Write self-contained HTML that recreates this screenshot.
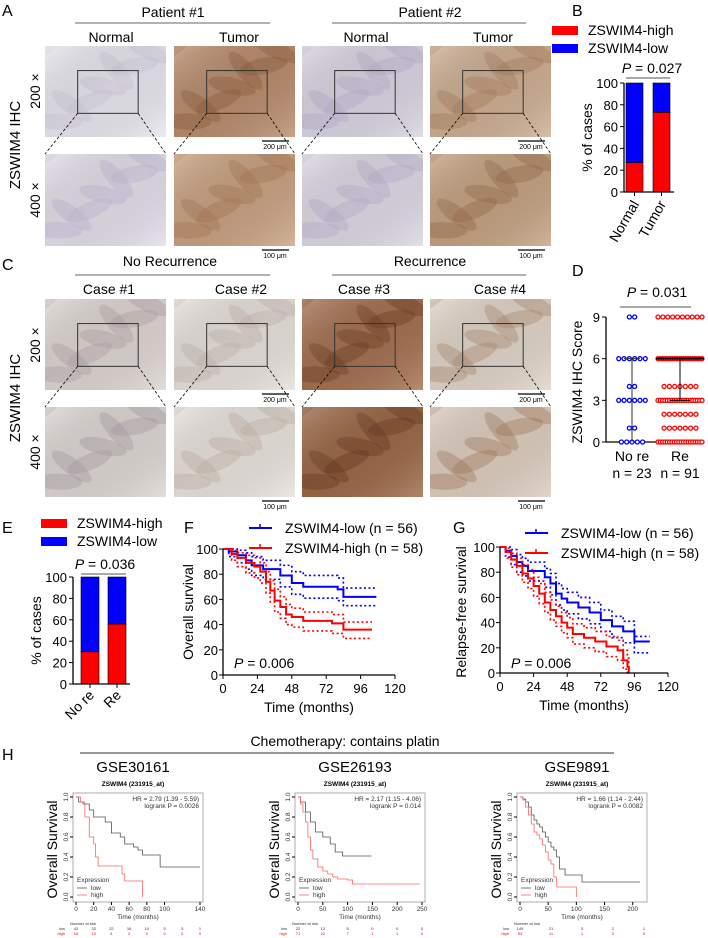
<!DOCTYPE html>
<html><head><meta charset="utf-8">
<style>
html,body{margin:0;padding:0;background:#fff;}
svg{display:block;font-family:"Liberation Sans",Arial,sans-serif;}
</style></head>
<body>
<svg id="fig" width="708" height="938" viewBox="0 0 708 938" xmlns="http://www.w3.org/2000/svg">
<defs id="defs">
<linearGradient id="tex" x1="0" y1="0" x2="1" y2="1">
<stop offset="0" stop-color="#fff" stop-opacity="0.25"/>
<stop offset="0.5" stop-color="#000" stop-opacity="0.06"/>
<stop offset="1" stop-color="#fff" stop-opacity="0.2"/>
</linearGradient>
</defs>
</svg>
<script>
// ---------- DATA ----------
const bCategories=['Normal','Tumor'];
const bHigh=[27,73];
const eCategories=['No re','Re'];
const eHigh=[30,56];
const pctTicks=[0,20,40,60,80,100];

const dScores=[0,1,2,3,4,6,9];
const dNoReCounts=[5,2,0,6,2,6,2];
const dReCounts=[20,7,7,20,7,20,10];
const dTicks=[0,3,6,9];

const fTimes=[0,24,48,72,96,120];
const fLowT=[0,4,10,16,20,28,36,40,48,56,80,84,107];
const fLowS=[100,98,95,91,87,84,84,79,73,70,68,62,62];
const fLowUp=[100,100,99,97,94,91,91,87,82,79,77,69,69];
const fLowLo=[100,94,89,84,79,76,76,70,64,61,59,55,55];
const fHighT=[0,6,10,16,22,26,30,33,36,40,44,48,56,68,76,84,104];
const fHighS=[100,96,93,89,86,82,74,67,59,54,48,46,43,43,41,36,36];
const fHighUp=[100,99,97,95,93,89,82,75,68,62,56,53,50,50,48,42,42];
const fHighLo=[100,91,86,81,77,73,65,58,50,45,40,38,35,35,33,29,29];

const gLowT=[0,4,8,12,16,20,28,32,36,40,44,48,56,64,72,80,88,96,107];
const gLowS=[100,97,93,88,85,81,81,76,71,63,59,56,52,48,42,37,33,25,25];
const gLowUp=[100,100,98,94,91,88,88,83,79,71,67,64,60,56,50,45,41,29,29];
const gLowLo=[100,92,86,80,77,73,73,68,62,54,50,47,43,39,33,28,24,16,16];
const gHighT=[0,4,8,12,16,20,24,28,32,36,40,44,48,52,60,68,76,84,88,91,92];
const gHighS=[100,96,90,85,79,75,69,63,56,50,45,40,36,31,28,25,21,18,10,5,0];
const gHighUp=[100,99,95,91,86,82,76,71,64,58,53,48,44,39,36,33,29,26,18,12,0];
const gHighLo=[100,91,84,78,72,67,61,55,48,42,37,32,28,23,20,17,13,10,3,0,0];

const hTitles=['GSE30161','GSE26193','GSE9891'];
const hHR=['HR = 2.79 (1.39 - 5.59)','HR = 2.17 (1.15 - 4.06)','HR = 1.66 (1.14 - 2.44)'];
const hP=['logrank P = 0.0026','logrank P = 0.014','logrank P = 0.0082'];
const hXTicks=[[0,20,40,60,80,100,140],[0,50,100,150,200,250],[0,50,100,150,200]];
const hXMax=[140,250,220];
const h1LowT=[0,3,8,15,20,30,33,40,50,55,65,70,75,90,95,140];
const h1LowS=[1,0.95,0.93,0.87,0.8,0.8,0.75,0.64,0.6,0.53,0.5,0.47,0.42,0.42,0.3,0.3];
const h1HighT=[0,5,10,15,20,22,25,40,52,55,75,75];
const h1HighS=[1,0.95,0.8,0.6,0.53,0.4,0.31,0.31,0.23,0.16,0.16,0];
const h2LowT=[0,5,15,25,35,50,65,75,90,148];
const h2LowS=[1,0.95,0.85,0.75,0.65,0.6,0.53,0.45,0.41,0.41];
const h2HighT=[0,5,10,15,20,25,30,40,50,60,70,80,100,110,245];
const h2HighS=[1,0.93,0.85,0.75,0.6,0.47,0.38,0.3,0.26,0.23,0.2,0.18,0.17,0.13,0.13];
const h3LowT=[0,5,10,15,20,25,30,35,40,45,50,55,60,65,70,80,110,213];
const h3LowS=[1,0.98,0.95,0.9,0.82,0.77,0.73,0.7,0.65,0.6,0.55,0.5,0.47,0.4,0.28,0.22,0.15,0.15];
const h3HighT=[0,5,10,15,20,25,30,35,40,45,50,55,60,65,100,100];
const h3HighS=[1,0.97,0.9,0.82,0.73,0.65,0.62,0.58,0.52,0.45,0.37,0.33,0.2,0.1,0.1,0];
const hRiskLow=[['42','32','22','16','10','5','3','1'],['22','13','5','0','0','0'],['149','21','3','2','1']];
const hRiskHigh=[['16','10','4','2','0','0','0','0'],['71','22','7','1','1','0'],['93','11','1','0','0']];

// ---------- HELPERS ----------
const NS='http://www.w3.org/2000/svg';
const svg=document.getElementById('fig');
const defs=document.getElementById('defs');
function mk(tag,attrs,name,parent){
  const el=document.createElementNS(NS,tag);
  for(const k in attrs) el.setAttribute(k,attrs[k]);
  
  
  (parent||svg).appendChild(el);
  return el;
}
function txt(x,y,s,size,name,extra){
  const a=Object.assign({x:x,y:y,'font-size':size,fill:'#000'},extra||{});
  const t=mk('text',a,name);
  t.textContent=s;
  return t;
}
function line(x1,y1,x2,y2,name,extra){
  return mk('line',Object.assign({x1:x1,y1:y1,x2:x2,y2:y2,stroke:'#000','stroke-width':1},extra||{}),name);
}
function ptext(x,y,val,name,size){
  const t=mk('text',{x:x,y:y,'font-size':size||14,'text-anchor':'middle',fill:'#000'},name);
  const a=document.createElementNS(NS,'tspan');a.setAttribute('font-style','italic');a.textContent='P';
  t.appendChild(a);
  t.appendChild(document.createTextNode(' = '+val));
  return t;
}

// ---------- MICROGRAPHS ----------
let clipId=0;
function micro(x,y,w,h,base,accent,name,box){
  const cid='clip'+(clipId++);
  const cp=mk('clipPath',{id:cid},name+'-clip',defs);
  mk('rect',{x:x,y:y,width:w,height:h},name+'-clip-rect',cp);
  const g=mk('g',{'clip-path':'url(#'+cid+')'},name);
  mk('rect',{x:x,y:y,width:w,height:h,fill:base},name+'-base',g);
  for(let i=0;i<8;i++){
    const cx=x+w*((i*37%100)/100), cy=y+h*((i*61%100)/100);
    mk('ellipse',{cx:cx,cy:cy,rx:w*0.2,ry:h*0.09,fill:accent,opacity:0.4,transform:`rotate(${-35+i*12} ${cx} ${cy})`},name+'-texture',g);
  }
  mk('rect',{x:x,y:y,width:w,height:h,fill:'url(#tex)'},name+'-shade',g);
  if(box){ mk('rect',{x:box[0],y:box[1],width:box[2],height:box[3],fill:'none',stroke:'#333','stroke-width':1},name+'-zoom-box'); }
}
const cols=[45,174,302,430], cw=121;
function imageGrid(y1,h1,y2,h2,colorsTop,colorsBot,prefix,labels){
  for(let i=0;i<4;i++){
    const bx=cols[i]+cw*0.27, by=y1+h1*0.27, bw=cw*0.5, bh=h1*0.47;
    micro(cols[i],y1,cw,h1,colorsTop[i][0],colorsTop[i][1],prefix+'-'+labels[i]+'-200x',[bx,by,bw,bh]);
    micro(cols[i],y2,cw,h2,colorsBot[i][0],colorsBot[i][1],prefix+'-'+labels[i]+'-400x');
    line(bx,by+bh,cols[i],y2,prefix+'-zoom-line',{'stroke-dasharray':'3,2','stroke-width':0.8});
    line(bx+bw,by+bh,cols[i]+cw,y2,prefix+'-zoom-line',{'stroke-dasharray':'3,2','stroke-width':0.8});
  }
  [1,3].forEach(i=>{
    line(cols[i]+cw-33,y1+h1+4,cols[i]+cw-6,y1+h1+4,prefix+'-scale-bar',{'stroke-width':1.2});
    txt(cols[i]+cw-20,y1+h1+12,'200 μm',7,prefix+'-scale-label',{'text-anchor':'middle'});
    line(cols[i]+cw-33,y2+h2+4,cols[i]+cw-6,y2+h2+4,prefix+'-scale-bar',{'stroke-width':1.2});
    txt(cols[i]+cw-20,y2+h2+12,'100 μm',7,prefix+'-scale-label',{'text-anchor':'middle'});
  });
}

// Panel A
txt(2,16,'A',16,'panel-label-a');
txt(173,17,'Patient #1',14,'patient-1-header',{'text-anchor':'middle'});
line(75,23,270,23,'patient-1-line',{stroke:'#666'});
txt(430,17,'Patient #2',14,'patient-2-header',{'text-anchor':'middle'});
line(332,23,526,23,'patient-2-line',{stroke:'#666'});
[['Normal',111],['Tumor',239],['Normal',366],['Tumor',493]].forEach(a=>txt(a[1],42,a[0],14,'column-label',{'text-anchor':'middle'}));
txt(0,0,'ZSWIM4 IHC',15,'row-axis-label-a',{'text-anchor':'middle',transform:'translate(20,145) rotate(-90)'});
txt(0,0,'200 ×',14,'mag-200-label',{'text-anchor':'middle',transform:'translate(40,91) rotate(-90)'});
txt(0,0,'400 ×',14,'mag-400-label',{'text-anchor':'middle',transform:'translate(40,200) rotate(-90)'});
imageGrid(46,91,154,92,
 [['#e8e6ee','#cfcadd'],['#b98c6d','#8e5e3e'],['#d8d4e2','#b9b2cf'],['#cdae92','#a9805e']],
 [['#e2dee9','#c2bcd6'],['#c9a282','#a97a56'],['#dcd8e4','#bcb5cf'],['#c4a282','#9a6e4c']],
 'a',['normal-1','tumor-1','normal-2','tumor-2']);

// Panel C
txt(2,270,'C',16,'panel-label-c');
txt(170,266,'No Recurrence',14,'no-recurrence-header',{'text-anchor':'middle'});
line(75,275,270,275,'no-recurrence-line',{stroke:'#666'});
txt(430,266,'Recurrence',14,'recurrence-header',{'text-anchor':'middle'});
line(332,275,526,275,'recurrence-line',{stroke:'#666'});
[['Case #1',109],['Case #2',241],['Case #3',364],['Case #4',500]].forEach(a=>txt(a[1],294,a[0],14,'case-label',{'text-anchor':'middle'}));
txt(0,0,'ZSWIM4 IHC',15,'row-axis-label-c',{'text-anchor':'middle',transform:'translate(20,398) rotate(-90)'});
txt(0,0,'200 ×',14,'mag-200-label',{'text-anchor':'middle',transform:'translate(40,345) rotate(-90)'});
txt(0,0,'400 ×',14,'mag-400-label',{'text-anchor':'middle',transform:'translate(40,452) rotate(-90)'});
imageGrid(299,91,407,90,
 [['#ddd5d2','#b6a4a8'],['#e6e0da','#c8b8b2'],['#a47050','#6e3e22'],['#e0d4c8','#b08c70']],
 [['#ddd6d3','#b0a0a8'],['#e8e2dc','#c6b6aa'],['#9c6846','#6a3c24'],['#dccdbf','#a87e5e']],
 'c',['case-1','case-2','case-3','case-4']);

// ---------- STACKED BARS (B, E) ----------
function stacked(opts){
  const {ax,y0,y100,cats,high,barX,barW,prefix,legX,legY,pX,pY,pVal,rot}=opts;
  const ys=v=>y0-(y0-y100)*v/100;
  mk('rect',{x:legX,y:legY,width:26,height:9,fill:'#f00'},prefix+'-legend-high-swatch');
  txt(legX+36,legY+9,'ZSWIM4-high',14,prefix+'-legend-high');
  mk('rect',{x:legX,y:legY+18,width:26,height:9,fill:'#00f'},prefix+'-legend-low-swatch');
  txt(legX+36,legY+27,'ZSWIM4-low',14,prefix+'-legend-low');
  cats.forEach((c,i)=>{
    mk('rect',{x:barX[i],y:ys(100),width:barW,height:ys(high[i])-ys(100),fill:'#00f',stroke:'#000','stroke-width':0.6},prefix+'-bar-low-'+i);
    mk('rect',{x:barX[i],y:ys(high[i]),width:barW,height:ys(0)-ys(high[i]),fill:'#f00',stroke:'#000','stroke-width':0.6},prefix+'-bar-high-'+i);
    const cx=barX[i]+barW/2;
    line(cx,y0,cx,y0+4,prefix+'-x-tick');
    txt(0,0,c,14,prefix+'-x-label',{'text-anchor':'end',transform:`translate(${cx+5},${y0+12}) rotate(${rot})`});
  });
  line(ax,y0,ax,y100,prefix+'-y-axis',{'stroke-width':1.3});
  line(ax,y0,barX[1]+barW+4,y0,prefix+'-x-axis',{'stroke-width':1.3});
  pctTicks.forEach(t=>{
    line(ax-4,ys(t),ax,ys(t),prefix+'-y-tick');
    txt(ax-6,ys(t)+5,String(t),13,prefix+'-y-tick-label',{'text-anchor':'end'});
  });
  txt(0,0,'% of cases',14,prefix+'-y-axis-title',{'text-anchor':'middle',transform:`translate(${ax-32},${(y0+y100)/2}) rotate(-90)`});
  ptext(pX,pY,pVal,prefix+'-p-value',14);
  line(barX[0],pY+5,barX[1]+barW,pY+5,prefix+'-p-line',{stroke:'#555'});
}
txt(572,16,'B',16,'panel-label-b');
stacked({ax:624,y0:192,y100:83,cats:bCategories,high:bHigh,barX:[626,653],barW:17,prefix:'b',legX:552,legY:26,pX:652,pY:73,pVal:'0.027',rot:-60});
txt(2,533,'E',16,'panel-label-e');
stacked({ax:73,y0:684,y100:577,cats:eCategories,high:eHigh,barX:[81,108],barW:18,prefix:'e',legX:41,legY:519,pX:105,pY:569,pVal:'0.036',rot:-45});

// ---------- D: dot plot ----------
txt(572,276,'D',16,'panel-label-d');
(function(){
  const ax=606, y0=442, y9=317, xs=[632,680];
  const ys=v=>y0-(y0-y9)*v/9;
  line(ax,y0,ax,y9,'d-y-axis',{'stroke-width':1.3});
  line(ax,y0,702,y0,'d-x-axis',{'stroke-width':1.3});
  dTicks.forEach(t=>{line(ax-4,ys(t),ax,ys(t),'d-y-tick');txt(ax-6,ys(t)+5,String(t),13,'d-y-tick-label',{'text-anchor':'end'});});
  txt(0,0,'ZSWIM4 IHC Score',14,'d-y-axis-title',{'text-anchor':'middle',transform:`translate(582,382) rotate(-90)`});
  [[dNoReCounts,'#00f'],[dReCounts,'#f00']].forEach((g,gi)=>{
    dScores.forEach((s,si)=>{
      const n=g[0][si]; if(!n) return;
      const sp=n>1?Math.min(5.3,44/(n-1)):0;
      for(let k=0;k<n;k++){
        mk('circle',{cx:xs[gi]+(k-(n-1)/2)*sp,cy:ys(s),r:2,fill:'#fff',stroke:g[1],'stroke-width':1.3},gi?'d-dot-re':'d-dot-no-re');
      }
    });
  });
  line(xs[0],ys(0),xs[0],ys(6),'d-iqr-no-re',{stroke:'#333'});
  line(xs[0]-8,ys(6),xs[0]+8,ys(6),'d-cap-no-re',{stroke:'#333'});
  line(xs[1],ys(3),xs[1],ys(6),'d-iqr-re',{stroke:'#000'});
  line(xs[1]-24,ys(6),xs[1]+24,ys(6),'d-cap-re',{stroke:'#000','stroke-width':2});
  line(xs[1]-10,ys(3),xs[1]+10,ys(3),'d-cap-re-low',{stroke:'#000'});
  txt(xs[0],461,'No re',14,'d-x-label',{'text-anchor':'middle'});
  txt(xs[1],461,'Re',14,'d-x-label',{'text-anchor':'middle'});
  txt(xs[0],478,'n = 23',14,'d-n-label',{'text-anchor':'middle'});
  txt(xs[1],478,'n = 91',14,'d-n-label',{'text-anchor':'middle'});
  ptext(657,297,'0.031','d-p-value',14);
  line(620,307,691,307,'d-p-line',{stroke:'#555'});
})();

// ---------- KM (F, G) ----------
function step(T,S,xs,ys){
  let d='M'+xs(T[0])+','+ys(S[0]);
  for(let i=1;i<T.length;i++) d+=' H'+xs(T[i])+' V'+ys(S[i]);
  return d;
}
function km(o){
  const xs=t=>o.ax+(o.x120-o.ax)*t/120, ys=v=>o.y0-(o.y0-o.y100)*v/100;
  const series=[[o.lowT,o.lowS,o.lowUp,o.lowLo,'#00f','low'],[o.highT,o.highS,o.highUp,o.highLo,'#f00','high']];
  series.forEach(s=>{
    mk('path',{d:step(s[0],s[2],xs,ys),fill:'none',stroke:s[4],'stroke-width':1.6,'stroke-dasharray':'2,2.5'},o.p+'-'+s[5]+'-ci-upper');
    mk('path',{d:step(s[0],s[3],xs,ys),fill:'none',stroke:s[4],'stroke-width':1.6,'stroke-dasharray':'2,2.5'},o.p+'-'+s[5]+'-ci-lower');
    mk('path',{d:step(s[0],s[1],xs,ys),fill:'none',stroke:s[4],'stroke-width':2},o.p+'-'+s[5]+'-curve');
  });
  line(o.ax,o.y0,o.ax,o.y100,o.p+'-y-axis',{'stroke-width':1.3});
  line(o.ax,o.y0,o.x120,o.y0,o.p+'-x-axis',{'stroke-width':1.3});
  pctTicks.forEach(t=>{line(o.ax-4,ys(t),o.ax,ys(t),o.p+'-y-tick');txt(o.ax-5,ys(t)+5,String(t),13,o.p+'-y-tick-label',{'text-anchor':'end'});});
  fTimes.forEach(t=>{line(xs(t),o.y0,xs(t),o.y0+4,o.p+'-x-tick');txt(xs(t),o.y0+18,String(t),13,o.p+'-x-tick-label',{'text-anchor':'middle'});});
  txt((o.ax+o.x120)/2,o.y0+37,'Time (months)',14,o.p+'-x-axis-title',{'text-anchor':'middle'});
  txt(0,0,o.ylab,14,o.p+'-y-axis-title',{'text-anchor':'middle',transform:`translate(${o.ylx},612) rotate(-90)`});
  line(o.lx,o.ly,o.lx+23,o.ly,o.p+'-legend-low-line',{stroke:'#00f','stroke-width':2});
  line(o.lx+11,o.ly-4,o.lx+11,o.ly,o.p+'-legend-low-tick',{stroke:'#00f','stroke-width':1.5});
  txt(o.lx+36,o.ly+5,'ZSWIM4-low (n = 56)',14,o.p+'-legend-low');
  line(o.lx,o.ly+20,o.lx+23,o.ly+20,o.p+'-legend-high-line',{stroke:'#f00','stroke-width':2});
  line(o.lx+11,o.ly+16,o.lx+11,o.ly+20,o.p+'-legend-high-tick',{stroke:'#f00','stroke-width':1.5});
  txt(o.lx+36,o.ly+25,'ZSWIM4-high (n = 58)',14,o.p+'-legend-high');
  const pt=mk('text',{x:o.ax+11,y:668,'font-size':14,fill:'#000'},o.p+'-p-value');
  const a=document.createElementNS(NS,'tspan');a.setAttribute('font-style','italic');a.textContent='P';pt.appendChild(a);
  pt.appendChild(document.createTextNode(' = 0.006'));
}
txt(184,533,'F',16,'panel-label-f');
km({p:'f',ax:223,x120:395,y0:675,y100:549,lowT:fLowT,lowS:fLowS,lowUp:fLowUp,lowLo:fLowLo,highT:fHighT,highS:fHighS,highUp:fHighUp,highLo:fHighLo,ylab:'Overall survival',ylx:193,lx:249,ly:528});
txt(453,533,'G',16,'panel-label-g');
km({p:'g',ax:500,x120:668,y0:673,y100:547,lowT:gLowT,lowS:gLowS,lowUp:gLowUp,lowLo:gLowLo,highT:gHighT,highS:gHighS,highUp:gHighUp,highLo:gHighLo,ylab:'Relapse-free survival',ylx:466,lx:525,ly:533});

// ---------- H ----------
txt(2,760,'H',16,'panel-label-h');
txt(345,746,'Chemotherapy: contains platin',14,'h-header',{'text-anchor':'middle'});
line(80,753,614,753,'h-header-line',{stroke:'#333'});
const hData=[[h1LowT,h1LowS,h1HighT,h1HighS],[h2LowT,h2LowS,h2HighT,h2HighS],[h3LowT,h3LowS,h3HighT,h3HighS]];
const hBoxX=[73,295,517];
hData.forEach((d,i)=>{
  const bx=hBoxX[i], bw=130, by=793, bh=109;
  const x0=bx+3, x1=bx+bw-3, yTop=797, yBot=897;
  const xs=t=>x0+(x1-x0)*t/hXMax[i], ys=v=>yBot-(yBot-yTop)*v;
  txt(bx+60,772,hTitles[i],15,'h-title-'+i,{'text-anchor':'middle'});
  txt(bx+60,786,'ZSWIM4 (231915_at)',6.5,'h-subtitle-'+i,{'text-anchor':'middle','font-weight':'bold'});
  mk('rect',{x:bx,y:by,width:bw,height:bh,fill:'none',stroke:'#999','stroke-width':0.8},'h-plot-box-'+i);
  mk('path',{d:step(d[0],d[1],xs,ys),fill:'none',stroke:'#555','stroke-width':0.8},'h-low-curve-'+i);
  mk('path',{d:step(d[2],d[3],xs,ys),fill:'none',stroke:'#f66','stroke-width':0.8},'h-high-curve-'+i);
  [0,0.2,0.4,0.6,0.8,1.0].forEach(v=>{
    line(bx-3,ys(v),bx,ys(v),'h-y-tick');
    txt(0,0,v.toFixed(1),6.5,'h-y-tick-label',{'text-anchor':'middle',fill:'#333',transform:`translate(${bx-5},${ys(v)}) rotate(-90)`});
  });
  hXTicks[i].forEach(t=>{line(xs(t),by+bh,xs(t),by+bh+3,'h-x-tick');txt(xs(t),by+bh+9,String(t),6.5,'h-x-tick-label',{'text-anchor':'middle',fill:'#333'});});
  txt(bx+bw/2,919,'Time (months)',6.5,'h-x-axis-title',{'text-anchor':'middle',fill:'#333'});
  txt(0,0,'Overall Survival',14,'h-y-axis-title',{'text-anchor':'middle',transform:`translate(${bx-16},${by+bh/2+2}) rotate(-90)`});
  txt(bx+bw-4,801,hHR[i],6.5,'h-hr',{'text-anchor':'end',fill:'#333'});
  txt(bx+bw-4,808,hP[i],6.5,'h-logrank',{'text-anchor':'end',fill:'#333'});
  txt(bx+4,882,'Expression',6.5,'h-legend-title',{fill:'#333'});
  line(bx+4,888,bx+14,888,'h-legend-low-line',{stroke:'#555','stroke-width':0.8});
  txt(bx+18,890,'low',6.5,'h-legend-low',{fill:'#333'});
  line(bx+4,895,bx+14,895,'h-legend-high-line',{stroke:'#f66','stroke-width':0.8});
  txt(bx+18,897,'high',6.5,'h-legend-high',{fill:'#333'});
  txt(bx-3,925,'Number at risk',4,'h-risk-title',{fill:'#333'});
  txt(bx-8,930,'low',4,'h-risk-low-label',{fill:'#333','text-anchor':'end'});
  txt(bx-8,935,'high',4,'h-risk-high-label',{fill:'#f00','text-anchor':'end'});
  const nk=hRiskLow[i].length;
  hRiskLow[i].forEach((v,k)=>{const xx=x0+(x1-x0)*k/(nk-1);
    txt(xx,930,v,4,'h-risk-low',{'text-anchor':'middle',fill:'#333'});
    txt(xx,935,hRiskHigh[i][k],4,'h-risk-high',{'text-anchor':'middle',fill:'#f00'});
  });
});
</script>
</body></html>
